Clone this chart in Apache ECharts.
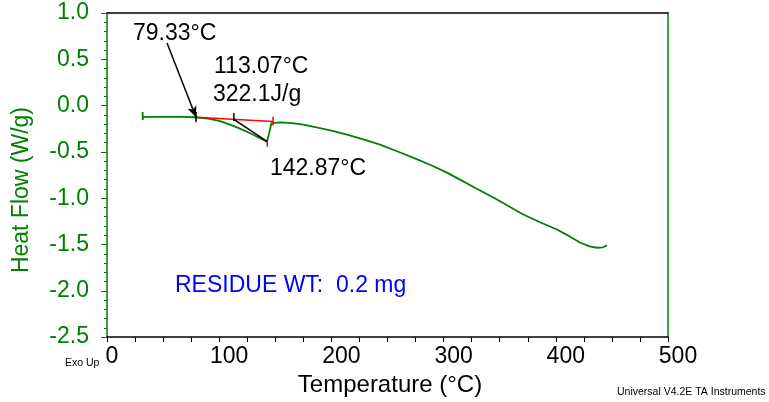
<!DOCTYPE html>
<html>
<head>
<meta charset="utf-8">
<script src="https://cdn.jsdelivr.net/npm/echarts@6/dist/echarts.min.js"></script>
<style>
html,body{margin:0;padding:0;background:#fff;}
#c{width:769px;height:402px;}
</style>
</head>
<body>
<div id="c"></div>
<script>
// ---- data ----
var temperature = [31.8, 31.8, 32.2, 40, 50, 65, 78.4, 90, 100, 109.6, 117, 124.8, 132, 139, 142.6, 144.5, 146.5, 148, 155, 165, 175, 183.6, 200, 213.9, 230, 243.3, 258, 272.7, 290, 303, 314.6, 330, 347.6, 360, 371, 386, 401, 412, 421.5, 430, 436.7, 442, 445.6];
var heatFlow    = [-0.07, -0.155, -0.125, -0.122, -0.121, -0.122, -0.126, -0.14, -0.165, -0.205, -0.24, -0.282, -0.325, -0.368, -0.39, -0.30, -0.19, -0.175, -0.182, -0.19, -0.205, -0.228, -0.27, -0.314, -0.37, -0.422, -0.49, -0.562, -0.65, -0.724, -0.799, -0.9, -1.014, -1.1, -1.176, -1.26, -1.338, -1.41, -1.478, -1.52, -1.535, -1.53, -1.51];

var onsetT = 79.33, peakT = 142.87, midT = 113.07, endT = 148;
var onsetV = -0.126, endV = -0.172, midV = -0.148, peakV = -0.39;
var xTicks = [0, 100, 200, 300, 400, 500];
var yTicks = [-2.5, -2.0, -1.5, -1.0, -0.5, 0.0, 0.5, 1.0];
var labels = {onset: '79.33°C', mid: '113.07°C', enthalpy: '322.1J/g', peak: '142.87°C', residue: 'RESIDUE WT:  0.2 mg'};

var FONT = '"Liberation Sans", Arial, sans-serif';
var GREEN = '#008000';

var curve = temperature.map(function (t, i) { return [t, heatFlow[i]]; });

function seg(points, color, width) {
  return {type: 'line', data: points, symbol: 'none', silent: true, animation: false,
          lineStyle: {color: color, width: width}, z: 3};
}

var chart = echarts.init(document.getElementById('c'), null, {renderer: 'canvas'});
chart.setOption({
  animation: false,
  backgroundColor: '#fff',
  grid: {left: 107, right: 101, top: 13, bottom: 64, containLabel: false},
  xAxis: [{
    type: 'value', min: xTicks[0], max: xTicks[xTicks.length - 1], interval: 100,
    position: 'bottom',
    name: 'Temperature (°C)', nameLocation: 'middle', nameGap: 35,
    nameTextStyle: {color: '#000', fontSize: 24, fontFamily: FONT, padding: [0, 0, 0, 5]},
    axisLine: {show: true, onZero: false, lineStyle: {color: '#000', width: 1.5}},
    axisTick: {show: true, length: 5, lineStyle: {color: '#000', width: 1}},
    minorTick: {show: true, splitNumber: 4, length: 5, lineStyle: {color: '#000', width: 1}},
    axisLabel: {color: '#000', fontSize: 23, fontFamily: FONT, margin: 8,
                formatter: function (v) { var s = String(v); return '{' + (s.length > 1 ? 'w' : 'n') + '|' + s + '}'; },
                rich: {
                  w: {color: '#000', fontSize: 23, fontFamily: FONT, padding: [0, 0, 0, 20]},
                  n: {color: '#000', fontSize: 23, fontFamily: FONT, padding: [0, 0, 0, 10]}
                }},
    splitLine: {show: false}
  }, {
    type: 'value', min: 0, max: 500, position: 'top',
    axisLine: {show: true, onZero: false, lineStyle: {color: '#000', width: 1.5}},
    axisTick: {show: false}, axisLabel: {show: false}, splitLine: {show: false}
  }],
  yAxis: [{
    type: 'value', min: yTicks[0], max: yTicks[yTicks.length - 1], interval: 0.5,
    position: 'left',
    name: 'Heat Flow (W/g)', nameLocation: 'middle', nameGap: 74,
    nameTextStyle: {color: GREEN, fontSize: 23, fontFamily: FONT, padding: [0, 30, 0, 0]},
    axisLine: {show: true, onZero: false, lineStyle: {color: GREEN, width: 1.5}},
    axisTick: {show: true, length: 6, lineStyle: {color: GREEN, width: 1}},
    minorTick: {show: true, splitNumber: 5, length: 3, lineStyle: {color: GREEN, width: 1}},
    axisLabel: {color: GREEN, fontSize: 23, fontFamily: FONT, margin: 18,
                formatter: function (v) { return v.toFixed(1); }},
    splitLine: {show: false}
  }, {
    type: 'value', min: -2.5, max: 1.0, position: 'right',
    axisLine: {show: true, onZero: false, lineStyle: {color: GREEN, width: 1.5}},
    axisTick: {show: false}, axisLabel: {show: false}, splitLine: {show: false}
  }],
  series: [
    seg(curve, GREEN, 1.8),
    seg([[onsetT, onsetV], [endT, endV]], '#ff0000', 1.5),
    seg([[endT, -0.12], [endT, -0.215]], '#ff0000', 1.5),
    seg([[peakT, peakV + 0.02], [peakT, peakV - 0.055]], '#ff0000', 1.5),
    seg([[midT, midV], [peakT, peakV]], '#000', 1.5),
    seg([[midT, -0.08], [midT, -0.165]], '#000', 1.5),
    (function () {
      var s = seg([[onsetT, -0.07], [onsetT, -0.18]], '#000', 1.5);
      s.markLine = {
        silent: true, symbol: ['none', 'arrow'], symbolSize: [7, 11], label: {show: false},
        lineStyle: {color: '#000', width: 1.5, type: 'solid'},
        data: [[{coord: [53.5, 0.677]}, {coord: [onsetT, onsetV]}]]
      };
      return s;
    })()
  ]
});

// text placed by its bottom edge (baseline + descent)
function txt(x, y, text, size, color) {
  return {type: 'text', x: x, y: y, silent: true,
          style: {text: text, fontSize: size, fontFamily: FONT, fill: color,
                  align: 'left', verticalAlign: 'bottom'}};
}

chart.setOption({
  graphic: [
    txt(133, 45, labels.onset, 23, '#000'),
    txt(214, 78, labels.mid, 23, '#000'),
    txt(213, 106, labels.enthalpy, 23, '#000'),
    txt(270, 180, labels.peak, 23, '#000'),
    txt(175, 297, labels.residue, 23, '#0000ff'),
    txt(65, 369, 'Exo Up', 10.5, '#000'),
    txt(617, 398, 'Universal V4.2E TA Instruments', 10.5, '#000')
  ]
});
</script>
</body>
</html>
